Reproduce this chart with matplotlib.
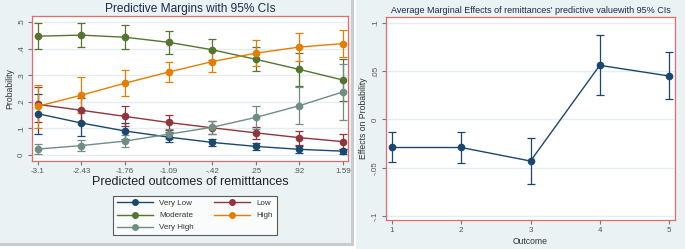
import numpy as np
import matplotlib.pyplot as plt
from matplotlib.patches import Rectangle
from matplotlib.lines import Line2D

plt.rcParams["font.family"] = ["Liberation Sans", "DejaVu Sans"]

# left panel: predictive margins
x_vals = [-3.1, -2.43, -1.76, -1.09, -0.42, 0.25, 0.92, 1.59]
x_labels = ["-3.1", "-2.43", "-1.76", "-1.09", "-.42", ".25", ".92", "1.59"]

very_low = [0.155, 0.120, 0.090, 0.067, 0.047, 0.032, 0.021, 0.014]
very_low_ci = [0.075, 0.050, 0.030, 0.018, 0.013, 0.012, 0.012, 0.010]
low = [0.190, 0.168, 0.145, 0.122, 0.102, 0.083, 0.065, 0.050]
low_ci = [0.065, 0.045, 0.038, 0.030, 0.024, 0.023, 0.026, 0.027]
moderate = [0.447, 0.451, 0.443, 0.424, 0.396, 0.360, 0.322, 0.282]
moderate_ci = [0.050, 0.045, 0.045, 0.043, 0.040, 0.045, 0.062, 0.080]
high = [0.183, 0.225, 0.270, 0.312, 0.351, 0.383, 0.406, 0.419]
high_ci = [0.080, 0.068, 0.050, 0.039, 0.040, 0.048, 0.052, 0.050]
very_high = [0.022, 0.035, 0.052, 0.078, 0.104, 0.141, 0.185, 0.237]
very_high_ci = [0.020, 0.022, 0.023, 0.018, 0.025, 0.042, 0.070, 0.105]

series = [
    ("Very Low", very_low, very_low_ci, "#1a476f"),
    ("Low", low, low_ci, "#90353b"),
    ("Moderate", moderate, moderate_ci, "#55752f"),
    ("High", high, high_ci, "#e37e00"),
    ("Very High", very_high, very_high_ci, "#6e8e84"),
]

# right panel: average marginal effects
outcome = [1, 2, 3, 4, 5]
ame = [-0.029, -0.029, -0.043, 0.056, 0.045]
ame_lo = [-0.044, -0.045, -0.067, 0.025, 0.021]
ame_hi = [-0.013, -0.013, -0.019, 0.087, 0.070]

bg = "#eaf2f3"
frame = "#e06c6c"
grid = "#e4eef0"
tick_col = "#555555"

fig = plt.figure(figsize=(6.85, 2.49), dpi=100)
fig.patch.set_facecolor("white")
W, H = 685, 249

def px(x0, y0, w, h):
    return [x0 / W, 1 - (y0 + h) / H, w / W, h / H]

# panel backgrounds
fig.patches.append(Rectangle((0, 1 - 246 / H), 354 / W, 246 / H, transform=fig.transFigure,
                             facecolor="#c8cccd", edgecolor="none", zorder=-3))
fig.patches.append(Rectangle((0, 1 - 243 / H), 351 / W, 243 / H, transform=fig.transFigure,
                             facecolor=bg, edgecolor="none", zorder=-2))
fig.patches.append(Rectangle((356 / W, 0), 329 / W, 1, transform=fig.transFigure,
                             facecolor=bg, edgecolor="none", zorder=-2))

def style_axes(ax):
    ax.set_facecolor("white")
    for s in ax.spines.values():
        s.set_color(frame)
        s.set_linewidth(0.9)
    ax.yaxis.grid(True, color=grid, linewidth=1.0)
    ax.set_axisbelow(True)
    ax.tick_params(axis="both", colors="#777777", labelcolor=tick_col, labelsize=5.8,
                   length=3, width=0.8, pad=2)

ax1 = fig.add_axes(px(32, 16, 316, 145))
style_axes(ax1)
for name, vals, ci, col in series:
    ax1.errorbar(x_vals, vals, yerr=ci, color=col, ecolor=col, elinewidth=0.9,
                 capsize=3, capthick=0.9, marker="o", markersize=4.5, linewidth=1.0)
ax1.set_xlim(-3.19, 1.67)
ax1.set_ylim(-0.023, 0.523)
ax1.set_xticks(x_vals)
ax1.set_xticklabels(x_labels)
ax1.set_yticks([0, 0.1, 0.2, 0.3, 0.4, 0.5])
ax1.set_yticklabels(["0", ".1", ".2", ".3", ".4", ".5"], rotation=90, va="center")
ax1.set_ylabel("Probability", fontsize=6.2, color="#333333", labelpad=3)
ax1.set_xlabel("Predicted outcomes of remitttances", fontsize=9, color="#222222", labelpad=1)
ax1.set_title("Predictive Margins with 95% CIs", fontsize=8.6, color="#1a2a4a", pad=3)

# legend filled row by row like the reference
order = [0, 2, 4, 1, 3]
handles = [Line2D([], [], color=series[i][3], marker="o", markersize=4, linewidth=1.0)
           for i in order]
labels = [series[i][0] for i in order]
leg = fig.legend(handles, labels, loc="upper left", bbox_to_anchor=(109 / W, 1 - 192 / H),
                 ncol=2, fontsize=5.8, frameon=True, fancybox=False, edgecolor="#333333",
                 handlelength=4.5, columnspacing=2.5, labelspacing=0.55, borderpad=0.45,
                 handletextpad=0.8)
leg.get_frame().set_linewidth(0.8)
for t in leg.get_texts():
    t.set_color("#333333")

ax2 = fig.add_axes(px(386, 17, 289, 203))
style_axes(ax2)
yerr = [np.subtract(ame, ame_lo), np.subtract(ame_hi, ame)]
ax2.errorbar(outcome, ame, yerr=yerr, color="#1a476f", ecolor="#1a476f", elinewidth=0.9,
             capsize=3, capthick=0.9, marker="o", markersize=4.5, linewidth=1.0)
ax2.set_xlim(0.913, 5.087)
ax2.set_ylim(-0.104, 0.106)
ax2.set_xticks(outcome)
ax2.set_yticks([-0.1, -0.05, 0, 0.05, 0.1])
ax2.set_yticklabels(["-.1", "-.05", "0", ".05", ".1"], rotation=90, va="center")
ax2.set_ylabel("Effects on Probability", fontsize=6.2, color="#333333", labelpad=3)
ax2.set_xlabel("Outcome", fontsize=6.2, color="#333333", labelpad=2)
ax2.set_title("Average Marginal Effects of remittances' predictive valuewith 95% CIs",
              fontsize=6.5, color="#1a2a4a", pad=3)

fig.savefig("out.png", dpi=100)
